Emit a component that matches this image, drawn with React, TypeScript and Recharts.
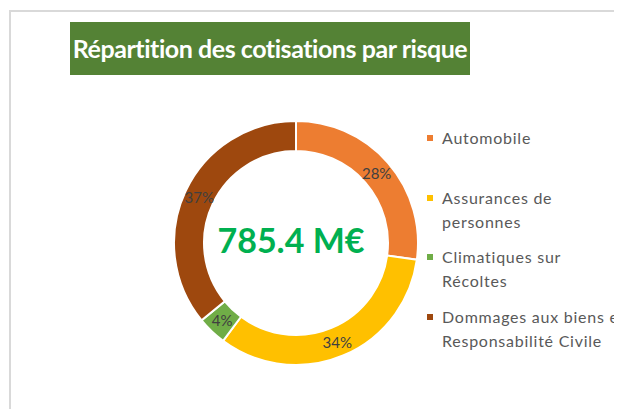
import { PieChart, Pie, Cell, Legend } from 'recharts';

const categories = [
  'Automobile',
  'Assurances de personnes',
  'Climatiques sur Récoltes',
  'Dommages aux biens et Responsabilité Civile',
];
const legendLines = [
  ['Automobile'],
  ['Assurances de', 'personnes'],
  ['Climatiques sur', 'Récoltes'],
  ['Dommages aux biens et', 'Responsabilité Civile'],
];
const shares = [28, 34, 4, 37];
const colors = ['#ED7D31', '#FFC000', '#70AD47', '#9E480E'];
const totalMillions = 785.4;
const title = 'Répartition des cotisations par risque';

const data = categories.map((name, i) => ({ name, value: shares[i] }));

const FONT = 'Lato, "Open Sans", sans-serif';
const RADIAN = Math.PI / 180;

function renderLabel(props: any) {
  const { cx, cy, midAngle, innerRadius, outerRadius, value } = props;
  const r = (innerRadius + outerRadius) / 2;
  const x = cx + r * Math.cos(-midAngle * RADIAN);
  const y = cy + r * Math.sin(-midAngle * RADIAN);
  return (
    <text
      x={x}
      y={y}
      textAnchor="middle"
      dominantBaseline="central"
      fill="#404040"
      fontSize={15}
      fontFamily={FONT}
    >
      {`${value}%`}
    </text>
  );
}

function LegendContent() {
  return (
    <div style={{ fontFamily: FONT, fontSize: 16, letterSpacing: 0.75, color: '#595959' }}>
      {legendLines.map((lines, i) => (
        <div key={i} style={{ position: 'relative', height: 59.7, paddingLeft: 15 }}>
          <span
            style={{
              position: 'absolute',
              left: 0,
              top: 9,
              width: 6,
              height: 6,
              background: colors[i],
            }}
          />
          {lines.map((l, j) => (
            <div key={j} style={{ lineHeight: '24px', whiteSpace: 'nowrap' }}>
              {l}
            </div>
          ))}
        </div>
      ))}
    </div>
  );
}

export default function App() {
  return (
    <div style={{ position: 'relative', width: 614, height: 401, overflow: 'hidden', background: '#fff' }}>
      <div
        style={{
          position: 'absolute',
          left: 1,
          top: 2,
          width: 700,
          height: 500,
          borderLeft: '2px solid #d9d9d9',
          borderTop: '2px solid #d9d9d9',
        }}
      />
      <div
        style={{
          position: 'absolute',
          left: 62,
          top: 14,
          width: 400,
          height: 53,
          background: '#548235',
          color: '#fff',
          fontFamily: FONT,
          fontWeight: 'bold',
          fontSize: 25,
          letterSpacing: -0.45,
          lineHeight: '52px',
          textAlign: 'center',
          whiteSpace: 'nowrap',
        }}
      >
        {title}
      </div>
      <div style={{ position: 'absolute', left: 0, top: 0 }}>
        <PieChart width={614} height={401}>
          <Pie
            data={data}
            dataKey="value"
            nameKey="name"
            cx={283}
            cy={230}
            innerRadius={92}
            outerRadius={122}
            startAngle={90}
            endAngle={-270}
            stroke="#ffffff"
            strokeWidth={2}
            label={renderLabel}
            labelLine={false}
            isAnimationActive={false}
          >
            {data.map((d, i) => (
              <Cell key={d.name} fill={colors[i]} />
            ))}
          </Pie>
          <text
            x={283}
            y={231}
            textAnchor="middle"
            dominantBaseline="central"
            fill="#00B050"
            fontSize={34}
            fontWeight="bold"
            fontFamily={FONT}
          >
            {`${totalMillions} M€`}
          </text>
          <Legend
            layout="vertical"
            content={<LegendContent />}
            wrapperStyle={{ left: 419, top: 118, width: 220 }}
          />
        </PieChart>
      </div>
    </div>
  );
}
